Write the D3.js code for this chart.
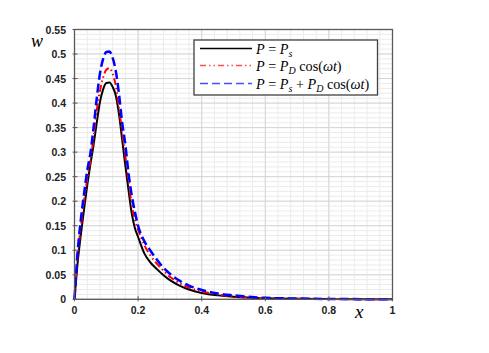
<!DOCTYPE html>
<html lang="en">
<head>
  <meta charset="UTF-8">
  <title>w vs x</title>
  <script src="https://cdnjs.cloudflare.com/ajax/libs/d3/7.8.5/d3.min.js"></script>
  <style>
    body { margin: 0; background: #fff; }
    .tick-label { font-family: "Liberation Sans", Arial, sans-serif; font-weight: bold; font-size: 10.5px; fill: #222; }
    .math { font-family: "Liberation Serif", "DejaVu Serif", serif; font-size: 14.2px; fill: #000; }
  </style>
</head>
<body>
  <svg width="489" height="353"></svg>
  <script>
    // x positions shared by the three curves
    var xs = [0, 0.01, 0.02, 0.03, 0.04, 0.05, 0.06, 0.07, 0.08, 0.09, 0.10, 0.11, 0.12, 0.13, 0.14, 0.15,
              0.16, 0.17, 0.18, 0.19, 0.20, 0.22, 0.24, 0.26, 0.28, 0.30, 0.33, 0.36, 0.40, 0.45, 0.50,
              0.60, 0.70, 0.80, 0.90, 1.0]

    // P = Ps
    var wStatic = [0, 0.075, 0.132, 0.183, 0.232, 0.275, 0.315, 0.36, 0.402, 0.428, 0.441, 0.442, 0.433, 0.415, 0.377, 0.325,
                   0.272, 0.222, 0.175, 0.145, 0.127, 0.093, 0.074, 0.061, 0.049, 0.039, 0.028, 0.020, 0.013, 0.008, 0.005,
                   0.002, 0.001, 0.0005, 0.0002, 0]
    // P = PD cos(wt)
    var wDynamic = [0, 0.088, 0.148, 0.2, 0.245, 0.283, 0.33, 0.385, 0.425, 0.452, 0.468, 0.471, 0.46, 0.435, 0.39, 0.34,
                    0.292, 0.24, 0.193, 0.162, 0.142, 0.11, 0.088, 0.072, 0.058, 0.046, 0.033, 0.024, 0.016, 0.010, 0.006,
                    0.0025, 0.001, 0.0005, 0.0002, 0]
    // P = Ps + PD cos(wt)
    var wCombined = [0, 0.098, 0.163, 0.215, 0.262, 0.298, 0.35, 0.41, 0.46, 0.49, 0.504, 0.505, 0.492, 0.465, 0.418, 0.36,
                     0.315, 0.256, 0.212, 0.178, 0.15, 0.118, 0.098, 0.08, 0.064, 0.052, 0.038, 0.028, 0.019, 0.012, 0.008,
                     0.003, 0.0015, 0.0007, 0.0003, 0]

    var xTicks = [0, 0.2, 0.4, 0.6, 0.8, 1]
    var yTicks = [0, 0.05, 0.1, 0.15, 0.2, 0.25, 0.3, 0.35, 0.4, 0.45, 0.5, 0.55]

    var svg = d3.select("svg")
    var x = d3.scaleLinear().domain([0, 1]).range([74.5, 392.5])
    var y = d3.scaleLinear().domain([0, 0.55]).range([299.3, 29.5])

    // grid: minor every 0.04 / 0.01, major on the labelled ticks
    var grid = svg.append("g")
    grid.selectAll(".vx").data(d3.range(0, 1.0001, 0.04)).enter().append("line")
      .attr("x1", d => x(d)).attr("x2", d => x(d)).attr("y1", y(0)).attr("y2", y(0.55))
      .attr("stroke", "#ebebeb").attr("stroke-width", 1)
    grid.selectAll(".hy").data(d3.range(0, 0.5501, 0.01)).enter().append("line")
      .attr("x1", x(0)).attr("x2", x(1)).attr("y1", d => y(d)).attr("y2", d => y(d))
      .attr("stroke", "#ebebeb").attr("stroke-width", 1)
    grid.selectAll(".mx").data(xTicks).enter().append("line")
      .attr("x1", d => x(d)).attr("x2", d => x(d)).attr("y1", y(0)).attr("y2", y(0.55))
      .attr("stroke", "#d6d6d6").attr("stroke-width", 1)
    grid.selectAll(".my").data(yTicks).enter().append("line")
      .attr("x1", x(0)).attr("x2", x(1)).attr("y1", d => y(d)).attr("y2", d => y(d))
      .attr("stroke", "#d6d6d6").attr("stroke-width", 1)

    // curves
    var series = [
      { values: wStatic, color: "#000000", width: 2, dash: null },
      { values: wDynamic, color: "#ff0000", width: 2, dash: "7,3,1.5,3,1.5,3" },
      { values: wCombined, color: "#0000ff", width: 2.5, dash: "9,4" }
    ]
    var line = d3.line().curve(d3.curveMonotoneX)
    series.forEach(s => {
      svg.append("path")
        .attr("d", line(xs.map((v, i) => [x(v), y(s.values[i])])))
        .attr("fill", "none")
        .attr("stroke", s.color)
        .attr("stroke-width", s.width)
        .attr("stroke-dasharray", s.dash)
    })

    // frame
    svg.append("rect")
      .attr("x", x(0)).attr("y", y(0.55)).attr("width", x(1) - x(0)).attr("height", y(0) - y(0.55))
      .attr("fill", "none").attr("stroke", "#595959").attr("stroke-width", 1.3)

    // ticks + labels
    svg.selectAll(".yt").data(yTicks).enter().append("line")
      .attr("x1", x(0) - 2).attr("x2", x(0) + 3).attr("y1", d => y(d)).attr("y2", d => y(d))
      .attr("stroke", "#595959")
    svg.selectAll(".xt").data(xTicks).enter().append("line")
      .attr("x1", d => x(d)).attr("x2", d => x(d)).attr("y1", y(0) - 3).attr("y2", y(0) + 2)
      .attr("stroke", "#595959")
    svg.selectAll(".ylab").data(yTicks).enter().append("text")
      .attr("class", "tick-label").attr("x", 66).attr("y", d => y(d) + 4)
      .attr("text-anchor", "end").text(d => d)
    svg.selectAll(".xlab").data(xTicks).enter().append("text")
      .attr("class", "tick-label").attr("x", d => x(d)).attr("y", 314)
      .attr("text-anchor", "middle").text(d => d)

    // axis titles
    svg.append("text").attr("class", "math").attr("x", 31).attr("y", 47)
      .attr("font-style", "italic").style("font-size", "18px").text("w")
    svg.append("text").attr("class", "math").attr("x", 355).attr("y", 318)
      .attr("font-style", "italic").style("font-size", "19px").text("x")

    // legend
    var lg = svg.append("g")
    lg.append("rect").attr("x", 194).attr("y", 40).attr("width", 183.5).attr("height", 55)
      .attr("fill", "#fff").attr("stroke", "#404040").attr("stroke-width", 1.3)
    var rows = [48.5, 65.5, 83.5]
    series.forEach((s, i) => {
      lg.append("line").attr("x1", 200).attr("x2", 252).attr("y1", rows[i]).attr("y2", rows[i])
        .attr("stroke", s.color).attr("stroke-width", i === 0 ? 1.3 : 1.5)
        .attr("stroke-opacity", i === 0 ? 1 : 0.7)
        .attr("stroke-dasharray", i === 0 ? null : (i === 1 ? "6,3,1.5,3,1.5,3" : "8,4"))
    })
    function addLabel(yy, parts) {
      var t = lg.append("text").attr("class", "math").attr("x", 256).attr("y", yy + 5)
      parts.forEach(p => {
        var sp = t.append("tspan").text(p[0])
        if (p[1] === "i") sp.attr("font-style", "italic")
        if (p[1] === "sub") sp.attr("font-style", "italic").attr("baseline-shift", "-25%").style("font-size", "10px")
      })
    }
    addLabel(rows[0], [["P", "i"], [" = ", ""], ["P", "i"], ["s", "sub"]])
    addLabel(rows[1], [["P", "i"], [" = ", ""], ["P", "i"], ["D", "sub"], [" cos(", ""], ["ωt", "i"], [")", ""]])
    addLabel(rows[2], [["P", "i"], [" = ", ""], ["P", "i"], ["s", "sub"], [" + ", ""], ["P", "i"], ["D", "sub"], [" cos(", ""], ["ωt", "i"], [")", ""]])
  </script>
</body>
</html>
